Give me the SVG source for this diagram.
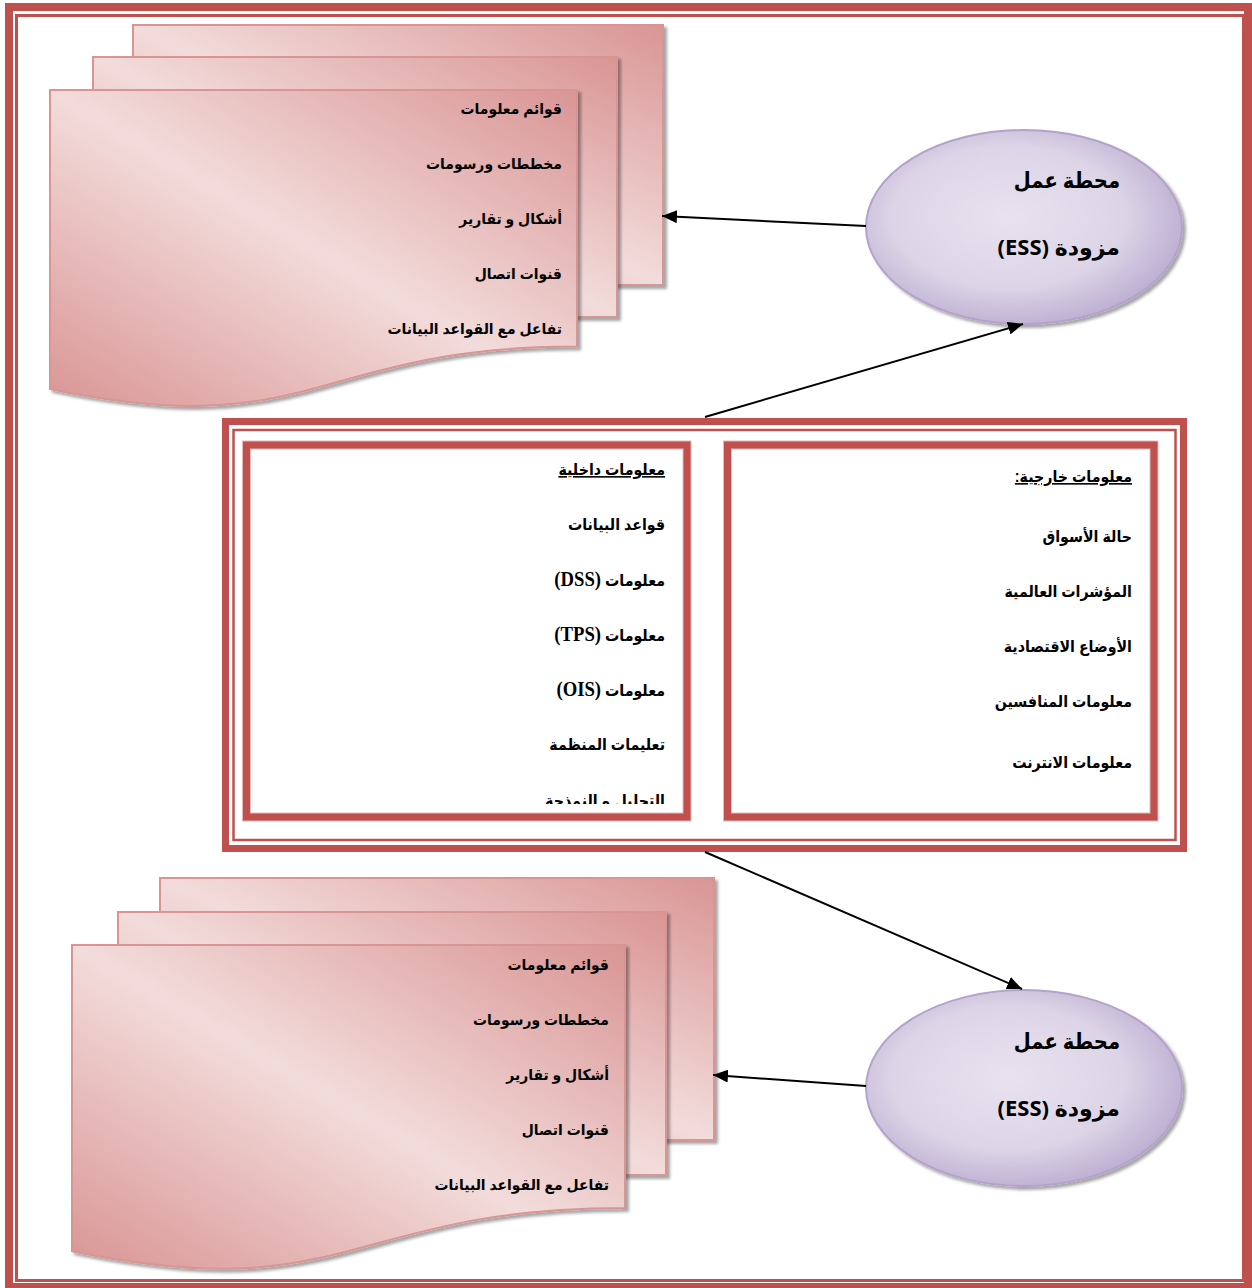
<svg xmlns="http://www.w3.org/2000/svg" width="1252" height="1288" viewBox="0 0 1252 1288">
<defs>
<style>
.pg{stroke:#d99594;stroke-width:2;fill:url(#pink);filter:url(#sh)}
.ell{fill:url(#lav);stroke:#b3a2c9;stroke-width:2;filter:url(#sh)}
.t{font-family:"Liberation Sans","DejaVu Sans",sans-serif;font-weight:bold;font-size:16px;fill:#000;direction:rtl;text-anchor:start}
.td{font-size:15px}
.te{font-family:"Open Sans","DejaVu Sans",sans-serif;font-weight:bold;font-size:22px;fill:#000;direction:rtl;text-anchor:start}
.lat{font-family:"Liberation Serif",serif;font-size:21px}
.red{fill:none;stroke:#c0504d}
.con{stroke:#000;stroke-width:2;fill:none;marker-end:url(#ah)}
</style>
<linearGradient id="pink" x1="1" y1="0" x2="0" y2="1">
<stop offset="0" stop-color="#d99594"/>
<stop offset="0.5" stop-color="#f2dcdb"/>
<stop offset="1" stop-color="#d99594"/>
</linearGradient>
<radialGradient id="lav" cx="0.45" cy="0.45" r="0.6">
<stop offset="0" stop-color="#e8e2ef"/>
<stop offset="0.6" stop-color="#ddd5e7"/>
<stop offset="1" stop-color="#b9aacf"/>
</radialGradient>
<filter id="sh" x="-5%" y="-5%" width="115%" height="115%">
<feDropShadow dx="3" dy="3" stdDeviation="1.5" flood-color="#000" flood-opacity="0.35"/>
</filter>
<marker id="ah" markerWidth="15" markerHeight="13" refX="15" refY="6.5" orient="auto" markerUnits="userSpaceOnUse">
<path d="M0,0 L15,6.5 L0,13 Z" fill="#000"/>
</marker>
<clipPath id="clipL"><rect x="250" y="448" width="433" height="356"/></clipPath>
</defs>

<g id="page-border">
<rect class="red" x="9" y="7" width="1239" height="1280" stroke-width="8"/>
<rect class="red" x="16.5" y="15.5" width="1227" height="1265" stroke-width="3"/>
</g>

<g id="docs-top">
<rect class="pg" x="133" y="25" width="530" height="260"/>
<rect class="pg" x="93" y="57" width="524" height="260"/>
<path class="pg" d="M50,90 H577 V346.6 C313.5,346.6 313.5,444.4 50,388.9 Z"/>
<g transform="translate(39.34,0) scale(0.93,1)">
<text class="t td" x="562" y="114">قوائم معلومات</text>
<text class="t td" x="562" y="169">مخططات ورسومات</text>
<text class="t td" x="562" y="224">أشكال و تقارير</text>
<text class="t td" x="562" y="279">قنوات اتصال</text>
<text class="t td" x="562" y="334">تفاعل مع القواعد البيانات</text>
</g>
</g>

<g id="ess-top">
<ellipse class="ell" cx="1024" cy="227" rx="158" ry="97"/>
<text class="te" x="1120" y="188" transform="translate(123.2,0) scale(0.89,1)">محطة عمل</text>
<text class="te" x="1120" y="255">مزودة (ESS)</text>
</g>

<g id="center-box">
<rect class="red" x="225.5" y="421.5" width="958" height="427" stroke-width="7"/>
<rect class="red" x="233.5" y="430" width="942" height="410" stroke-width="2.5"/>
</g>

<g id="internal-info">
<rect x="246.5" y="445" width="440.5" height="372" fill="none" stroke="#e6b9b8" stroke-width="9"/>
<rect class="red" x="246.5" y="445" width="440.5" height="372" stroke-width="7"/>
<g clip-path="url(#clipL)">
<g transform="translate(73.15,0) scale(0.89,1)">
<text class="t" x="665" y="475" text-decoration="underline">معلومات داخلية</text>
<text class="t" x="665" y="530">قواعد البيانات</text>
<text class="t" x="665" y="586">معلومات <tspan class="lat">(DSS)</tspan></text>
<text class="t" x="665" y="641">معلومات <tspan class="lat">(TPS)</tspan></text>
<text class="t" x="665" y="696">معلومات <tspan class="lat">(OIS)</tspan></text>
<text class="t" x="665" y="750">تعليمات المنظمة</text>
<text class="t" x="665" y="806">التحليل و النمذجة</text>
</g>
</g>
</g>

<g id="external-info">
<rect x="727.5" y="445" width="426.5" height="372" fill="none" stroke="#e6b9b8" stroke-width="9"/>
<rect class="red" x="727.5" y="445" width="426.5" height="372" stroke-width="7"/>
<g transform="translate(124.52,0) scale(0.89,1)">
<text class="t" x="1132" y="482" text-decoration="underline">معلومات خارجية:</text>
<text class="t" x="1132" y="542">حالة الأسواق</text>
<text class="t" x="1132" y="597">المؤشرات العالمية</text>
<text class="t" x="1132" y="652">الأوضاع الاقتصادية</text>
<text class="t" x="1132" y="707">معلومات المنافسين</text>
<text class="t" x="1132" y="768">معلومات الانترنت</text>
</g>
</g>

<g id="docs-bottom">
<rect class="pg" x="160" y="878" width="554" height="262"/>
<rect class="pg" x="118" y="912" width="548" height="263"/>
<path class="pg" d="M72,945 H625 V1208 C348.5,1208 348.5,1308.3 72,1251.3 Z"/>
<g transform="translate(42.63,0) scale(0.93,1)">
<text class="t td" x="609" y="970">قوائم معلومات</text>
<text class="t td" x="609" y="1025">مخططات ورسومات</text>
<text class="t td" x="609" y="1080">أشكال و تقارير</text>
<text class="t td" x="609" y="1135">قنوات اتصال</text>
<text class="t td" x="609" y="1190">تفاعل مع القواعد البيانات</text>
</g>
</g>

<g id="ess-bottom">
<ellipse class="ell" cx="1024" cy="1088" rx="158" ry="98"/>
<text class="te" x="1120" y="1049" transform="translate(123.2,0) scale(0.89,1)">محطة عمل</text>
<text class="te" x="1120" y="1116">مزودة (ESS)</text>
</g>

<g id="connectors">
<line class="con" x1="866" y1="226" x2="662" y2="216"/>
<line class="con" x1="705" y1="417" x2="1023" y2="324"/>
<line class="con" x1="705" y1="852" x2="1022" y2="989"/>
<line class="con" x1="866" y1="1086" x2="713" y2="1075"/>
</g>
</svg>
